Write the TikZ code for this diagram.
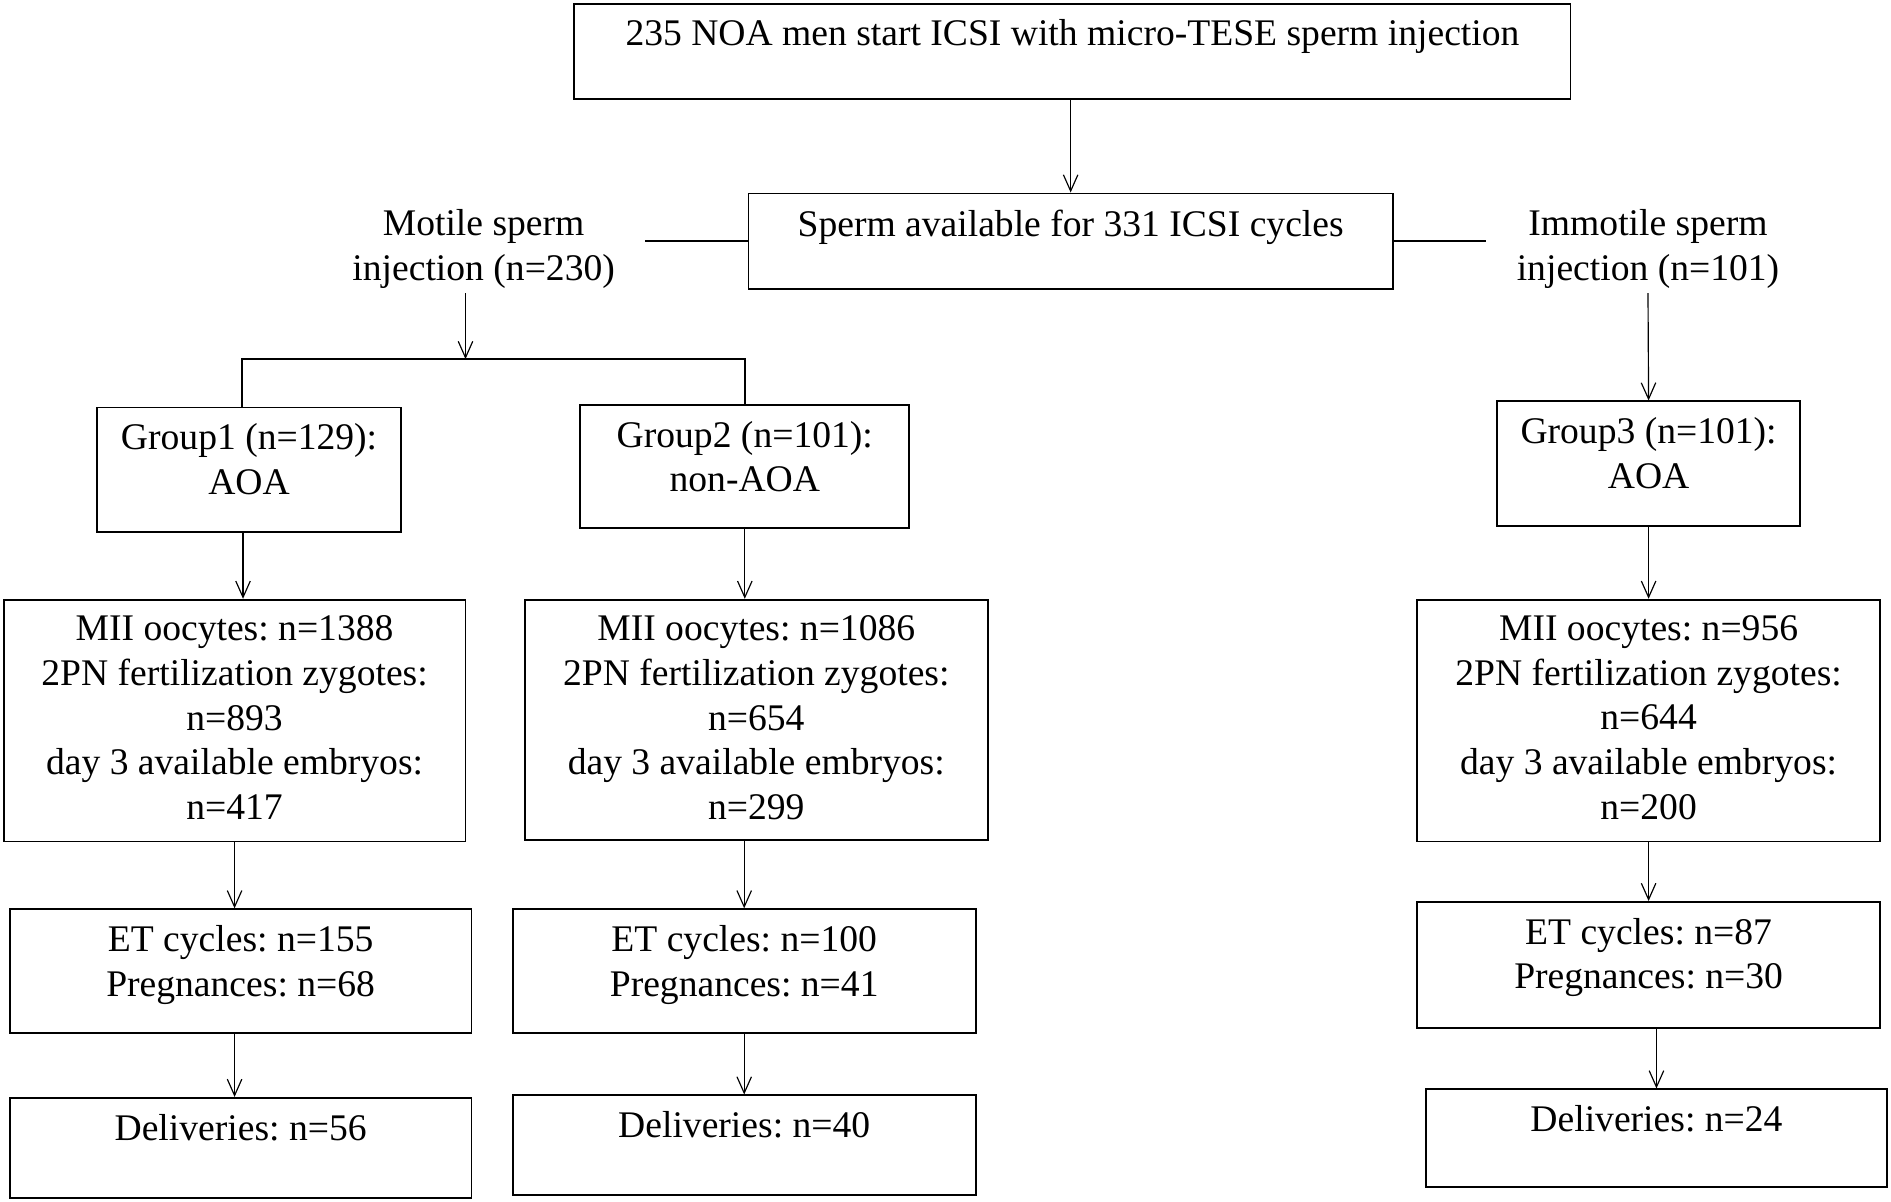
\documentclass[tikz,border=0pt]{standalone}
\usepackage{fontspec}
\setmainfont{Liberation Serif}
\usetikzlibrary{positioning, arrows.meta}

\begin{document}
\begin{tikzpicture}[
        x=0.02cm, y=-0.02cm,
        font=\fontsize{17.7}{21}\selectfont\frenchspacing,
        stage/.style={draw=black, line width=0.9pt, inner sep=0pt},
        stage text/.style={align=center, inner sep=0pt},
        side text/.style={align=center, inner xsep=0.5cm, inner ysep=2pt},
        flow/.style={-{Straight Barb[length=2.7mm, width=2.4mm]}, line width=0.55pt},
        link/.style={line width=0.8pt}
    ]
        \useasboundingbox (0, 0) rectangle (1564, 993.4);

        % top of the chart
        \node (start_box) at (887, 42.5) [stage, minimum width=16.48cm, minimum height=1.58cm] {};
        \node (start_text) [stage text, below=0.275cm of start_box.north] {235 NOA men start ICSI with micro-TESE sperm injection};
        \node (sperm_box) at (885.5, 199.5) [stage, minimum width=10.66cm, minimum height=1.58cm] {};
        \node (sperm_text) [stage text, below=0.275cm of sperm_box.north] {Sperm available for 331 ICSI cycles};
        \node (motile) at (400, 206) [side text] {Motile sperm\\injection (n=230)};
        \node (immotile) at (1363, 206) [side text] {Immotile sperm\\injection (n=101)};
        \coordinate (motile_split) at (385, 297);

        % groups
        \node (grp1) at (206, 388.5) [stage, minimum width=5.04cm, minimum height=2.06cm] {};
        \node (grp1_text) [stage text, below=0.275cm of grp1.north] {Group1 (n=129):\\AOA};
        \node (grp2) at (616, 386) [stage, minimum width=5.44cm, minimum height=2.04cm] {};
        \node (grp2_text) [stage text, below=0.275cm of grp2.north] {Group2 (n=101):\\non-AOA};
        \node (grp3) at (1363.5, 383.5) [stage, minimum width=5.02cm, minimum height=2.06cm] {};
        \node (grp3_text) [stage text, below=0.275cm of grp3.north] {Group3 (n=101):\\AOA};

        % oocytes and embryos
        \node (mii1) at (194, 596) [stage, minimum width=7.64cm, minimum height=4.0cm] {};
        \node (mii1_text) [stage text, below=0.275cm of mii1.north] {MII oocytes: n=1388\\2PN fertilization zygotes:\\n=893\\day 3 available embryos:\\n=417};
        \node (mii2) at (625.5, 595.5) [stage, minimum width=7.66cm, minimum height=3.98cm] {};
        \node (mii2_text) [stage text, below=0.275cm of mii2.north] {MII oocytes: n=1086\\2PN fertilization zygotes:\\n=654\\day 3 available embryos:\\n=299};
        \node (mii3) at (1363.5, 596) [stage, minimum width=7.66cm, minimum height=4.0cm] {};
        \node (mii3_text) [stage text, below=0.275cm of mii3.north] {MII oocytes: n=956\\2PN fertilization zygotes:\\n=644\\day 3 available embryos:\\n=200};

        % transfers
        \node (et1) at (199, 803) [stage, minimum width=7.64cm, minimum height=2.04cm] {};
        \node (et1_text) [stage text, below=0.275cm of et1.north] {ET cycles: n=155\\Pregnances: n=68};
        \node (et2) at (615.5, 803) [stage, minimum width=7.66cm, minimum height=2.04cm] {};
        \node (et2_text) [stage text, below=0.275cm of et2.north] {ET cycles: n=100\\Pregnances: n=41};
        \node (et3) at (1363.5, 798) [stage, minimum width=7.66cm, minimum height=2.08cm] {};
        \node (et3_text) [stage text, below=0.275cm of et3.north] {ET cycles: n=87\\Pregnances: n=30};

        % deliveries
        \node (del1) at (199, 949.5) [stage, minimum width=7.64cm, minimum height=1.66cm] {};
        \node (del1_text) [stage text, below=0.275cm of del1.north] {Deliveries: n=56};
        \node (del2) at (615.5, 947) [stage, minimum width=7.66cm, minimum height=1.64cm] {};
        \node (del2_text) [stage text, below=0.275cm of del2.north] {Deliveries: n=40};
        \node (del3) at (1370, 941.5) [stage, minimum width=7.64cm, minimum height=1.62cm] {};
        \node (del3_text) [stage text, below=0.275cm of del3.north] {Deliveries: n=24};

        % connectors
        \draw[flow] (start_box.south -| sperm_box.north) -- (sperm_box.north);
        \draw[link] (sperm_box.west) -- (sperm_box.west -| motile.east);
        \draw[link] (sperm_box.east) -- (sperm_box.east -| immotile.west);
        \draw[flow] (motile.south -| motile_split) -- (motile_split);
        \draw[line width=0.7pt] ([xshift=-0.12cm]grp1.north) |- (motile_split) -| (grp2.north);
        \draw[flow] (immotile.south) -- (grp3.north);

        \draw[flow] ([xshift=-0.1cm]grp1.south) -- ([xshift=-0.1cm]grp1.south |- mii1.north);
        \draw[flow] (grp2.south) -- (grp2.south |- mii2.north);
        \draw[flow] (grp3.south) -- (grp3.south |- mii3.north);
        \draw[flow] (mii1.south) -- (mii1.south |- et1.north);
        \draw[flow] (mii2.south -| et2.north) -- (et2.north);
        \draw[flow] (mii3.south) -- (et3.north);
        \draw[flow] (et1.south -| mii1.south) -- (mii1.south |- del1.north);
        \draw[flow] (et2.south) -- (del2.north);
        \draw[flow] (et3.south -| del3.north) -- (del3.north);
    \end{tikzpicture}
\end{document}
